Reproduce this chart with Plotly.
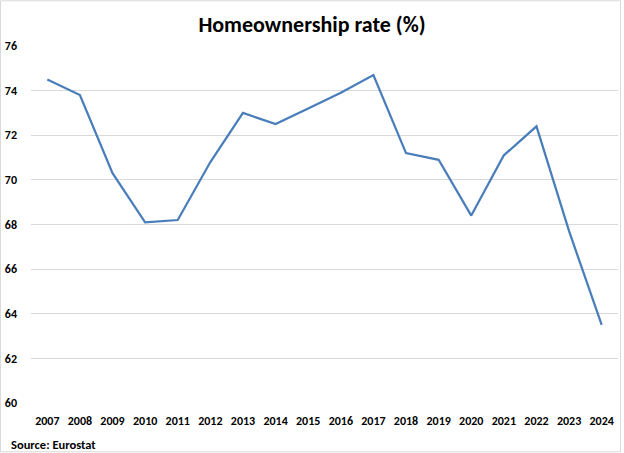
import plotly.graph_objects as go

years = ["2007", "2008", "2009", "2010", "2011", "2012", "2013", "2014", "2015",
         "2016", "2017", "2018", "2019", "2020", "2021", "2022", "2023", "2024"]
rate = [74.5, 73.8, 70.3, 68.1, 68.2, 70.8, 73.0, 72.5, 73.2,
        73.9, 74.7, 71.2, 70.9, 68.4, 71.1, 72.4, 67.7, 63.5]
y_ticks = [60, 62, 64, 66, 68, 70, 72, 74, 76]

FONT = "Carlito, 'Liberation Sans Narrow', 'Arial Narrow', 'Open Sans', sans-serif"

W, H = 624, 453
ML, MR, MT, MB = 31, 6, 45.7, 50.3
plot_w = W - ML - MR
plot_h = H - MT - MB


def px_x(x):
    return (x - ML) / plot_w


def px_y(y):
    return (H - MB - y) / plot_h


fig = go.Figure()
fig.add_trace(go.Scatter(
    x=years, y=rate, mode="lines",
    line=dict(color="#4A7EBB", width=2.25),
    hoverinfo="x+y",
))

fig.update_layout(
    width=W, height=H,
    margin=dict(l=ML, r=MR, t=MT, b=MB, autoexpand=False),
    paper_bgcolor="white", plot_bgcolor="white",
    showlegend=False,
    font=dict(family=FONT, color="#000000"),
    title=dict(
        text="<b>Homeownership rate (%)</b>",
        x=0.5, xanchor="center", xref="container",
        y=1 - 24 / H, yanchor="middle", yref="container",
        font=dict(size=22, family=FONT, color="#000000"),
    ),
    xaxis=dict(
        type="category", range=[-0.5, len(years) - 0.5],
        showgrid=False, zeroline=False, showline=False,
        ticks="", tickfont=dict(size=12, family=FONT, color="#000000", weight="bold"),
        ticklabelstandoff=9,
    ),
    yaxis=dict(
        range=[60, 76], tickvals=y_ticks, ticktext=[str(v) for v in y_ticks],
        showgrid=True, gridcolor="#D9D9D9", gridwidth=1,
        zeroline=False, showline=False, ticks="",
        tickfont=dict(size=12, family=FONT, color="#000000", weight="bold"),
        ticklabelstandoff=13,
    ),
    annotations=[dict(
        text="<b>Source: Eurostat</b>", x=px_x(8.5), y=px_y(444.5),
        xref="paper", yref="paper",
        showarrow=False, xanchor="left", yanchor="middle",
        font=dict(size=12.5, family=FONT, color="#000000"),
    )],
    shapes=[dict(
        type="rect", xref="paper", yref="paper",
        x0=px_x(0.5), x1=px_x(620.5), y0=px_y(451.5), y1=px_y(0.5),
        line=dict(color="#D9D9D9", width=1), layer="below",
    )],
)

fig.write_html("out.html", config={"displayModeBar": False},
               post_script="document.body.style.margin='0';")
